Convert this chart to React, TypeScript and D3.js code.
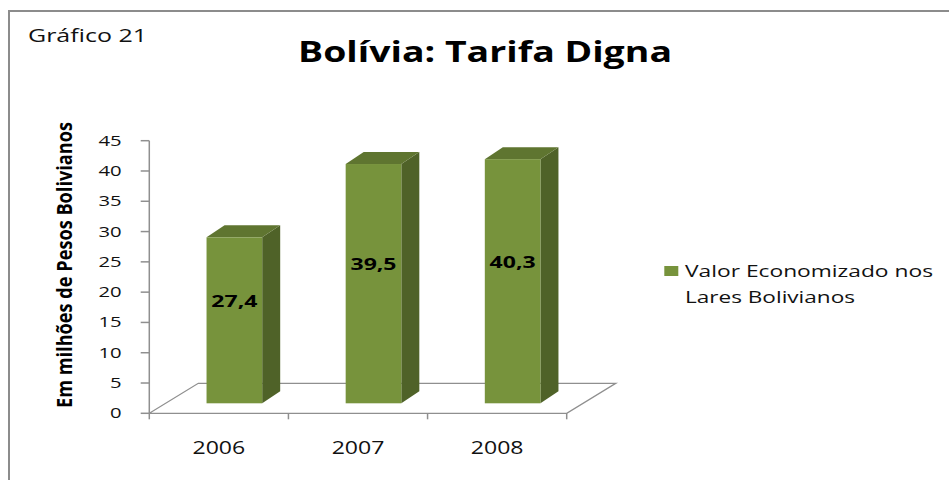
import React from "react";
import * as d3 from "d3";

const categories: string[] = ["2006", "2007", "2008"];
const values: number[] = [27.4, 39.5, 40.3];
const valueLabels: string[] = ["27,4", "39,5", "40,3"];
const yTicks: number[] = [0, 5, 10, 15, 20, 25, 30, 35, 40, 45];
const seriesName: string[] = ["Valor Economizado nos", "Lares Bolivianos"];
const title = "Bolívia: Tarifa Digna";
const subtitle = "Gráfico 21";
const yTitle = "Em milhões de Pesos Bolivianos";

const W = 949;
const H = 480;
const FONT = "'Open Sans', 'Liberation Sans', sans-serif";

const FRONT = "#77933C";
const SIDE = "#4F6228";
const TOP = "#5F7530";
const GRID = "#8f8f8f";

// 3D offsets
const FLOOR_DX = 49, FLOOR_DY = -30;
const PLANE_DX = 15.5, PLANE_DY = -10;
const BAR_DX = 18, BAR_DY = -12;

export default function App() {
  const y = d3.scaleLinear().domain([0, 45]).range([413.3, 140.7]);
  const x = d3.scaleBand<string>().domain(categories).range([149.3, 566.7]).padding(0);
  const bw = x.bandwidth() * 0.4;

  const floorPts = [
    [x.range()[0], y(0)],
    [x.range()[1], y(0)],
    [x.range()[1] + FLOOR_DX, y(0) + FLOOR_DY],
    [x.range()[0] + FLOOR_DX, y(0) + FLOOR_DY],
  ];

  return (
    <svg width={W} height={H} style={{ position: "absolute", left: 0, top: 0, background: "#fff" }} fontFamily={FONT}>
      <rect x={9} y={11} width={W + 20} height={H + 20} fill="#fff" stroke="#8c8c8c" strokeWidth={2} />
      <text x={28} y={42} fontSize={18} textLength={119} lengthAdjust="spacingAndGlyphs" fill="#111">{subtitle}</text>
      <text x={298} y={62} fontSize={28} fontWeight="bold" textLength={374} lengthAdjust="spacingAndGlyphs" fill="#000">{title}</text>

      {/* floor */}
      <polygon points={floorPts.map((p) => p.join(",")).join(" ")} fill="none" stroke={GRID} strokeWidth={1.3} />

      {/* y axis */}
      <line x1={x.range()[0]} x2={x.range()[0]} y1={y(45)} y2={y(0)} stroke={GRID} strokeWidth={1.5} />
      {yTicks.map((t) => (
        <g key={t}>
          <line x1={x.range()[0] - 8.6} x2={x.range()[0]} y1={y(t)} y2={y(t)} stroke={GRID} strokeWidth={1.5} />
          <text x={121.7} y={y(t) + 5} fontSize={14} textAnchor="end" textLength={String(t).length * 11.6} lengthAdjust="spacingAndGlyphs" fill="#111">{t}</text>
        </g>
      ))}

      {/* x axis ticks */}
      {categories.concat(["__end"]).map((c, i) => {
        const xv = i < categories.length ? (x(c) as number) : x.range()[1];
        return <line key={c} x1={xv} x2={xv} y1={y(0)} y2={y(0) + 6} stroke={GRID} strokeWidth={1.5} />;
      })}
      {categories.map((c) => (
        <text key={c} x={(x(c) as number) + x.bandwidth() / 2} y={454} fontSize={18} textAnchor="middle" textLength={52.7} lengthAdjust="spacingAndGlyphs" fill="#111">{c}</text>
      ))}

      {/* bars */}
      {categories.map((c, i) => {
        const cx = (x(c) as number) + x.bandwidth() / 2 + PLANE_DX;
        const x0 = cx - bw / 2;
        const x1 = cx + bw / 2;
        const yb = y(0) + PLANE_DY;
        const yt = y(values[i]) + PLANE_DY;
        const side = `${x1},${yt} ${x1 + BAR_DX},${yt + BAR_DY} ${x1 + BAR_DX},${yb + BAR_DY} ${x1},${yb}`;
        const top = `${x0},${yt} ${x0 + BAR_DX},${yt + BAR_DY} ${x1 + BAR_DX},${yt + BAR_DY} ${x1},${yt}`;
        const labelY = (yt + yb) / 2 - 19;
        return (
          <g key={c}>
            <polygon points={side} fill={SIDE} />
            <polygon points={top} fill={TOP} />
            <rect x={x0} y={yt} width={bw} height={yb - yt} fill={FRONT} />
            <text x={cx} y={labelY + 5.5} fontSize={16} fontWeight="bold" textAnchor="middle" textLength={46} lengthAdjust="spacingAndGlyphs" fill="#000">{valueLabels[i]}</text>
          </g>
        );
      })}

      {/* y title */}
      <text transform="translate(72,408) rotate(-90)" fontSize={22} fontWeight="bold" textLength={286} lengthAdjust="spacingAndGlyphs" fill="#000">{yTitle}</text>

      {/* legend */}
      <rect x={664.3} y={266} width={14} height={10} fill={FRONT} />
      <text x={685} y={276.7} fontSize={16.3} textLength={248} lengthAdjust="spacingAndGlyphs" fill="#111">{seriesName[0]}</text>
      <text x={685} y={303.3} fontSize={16.3} textLength={170} lengthAdjust="spacingAndGlyphs" fill="#111">{seriesName[1]}</text>
    </svg>
  );
}
